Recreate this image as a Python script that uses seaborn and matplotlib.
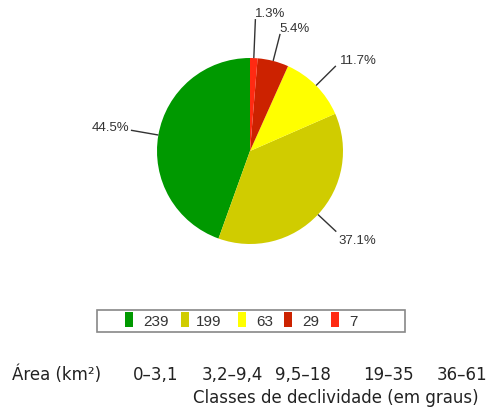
import numpy as np
import matplotlib
matplotlib.use("Agg")
import matplotlib.pyplot as plt
from matplotlib.patches import Rectangle
import seaborn as sns

# Area (km²) per slope class
areas = [239, 199, 63, 29, 7]
classes = ["0–3,1", "3,2–9,4", "9,5–18", "19–35", "36–61"]
colors = ["#009900", "#d0cc00", "#ffff00", "#cc2200", "#ff2a12"]

sns.set_theme(style="white")
plt.rcParams["font.family"] = ["DejaVu Sans"]

W, H = 492, 410
fig = plt.figure(figsize=(W / 100, H / 100), dpi=100)
fig.patch.set_facecolor("white")

# pie axes: centre (250, 152) px, radius 93 px
cx, cy, r = 250, 152, 93
ax = fig.add_axes([(cx - r) / W, (H - cy - r) / H, 2 * r / W, 2 * r / H])
wedges, _ = ax.pie(areas, colors=colors, startangle=90, counterclock=True,
                   radius=1, wedgeprops=dict(linewidth=0))
ax.set_xlim(-1, 1)
ax.set_ylim(-1, 1)
ax.set_axis_off()

total = sum(areas)
label_font = dict(family="Liberation Sans", size=9.5, color="#333333")
leader_r = [1.3, 1.27, 1.3, 1.3, 1.42]
for w, a, lr in zip(wedges, areas, leader_r):
    mid = np.deg2rad((w.theta1 + w.theta2) / 2)
    c, s = np.cos(mid), np.sin(mid)
    x0, y0 = c, s
    x1, y1 = lr * c, lr * s
    ax.plot([x0, x1], [y0, y1], color="#333333", lw=1.0, clip_on=False,
            solid_capstyle="butt")
    txt = f"{100 * a / total:.1f}%"
    if c < -0.3:
        ax.text(x1 - 0.02, y1 + 0.03, txt, ha="right", va="center", **label_font)
    elif s < 0:
        ax.text(x1 + 0.02, y1 - 0.02, txt, ha="left", va="top", **label_font)
    elif c > 0.5:
        ax.text(x1 + 0.04, y1 + 0.0, txt, ha="left", va="bottom", **label_font)
    else:
        ax.text(x1 - 0.01, y1 + 0.0, txt, ha="left", va="bottom", **label_font)


def fx(px):
    return px / W


def fy(py):
    return 1 - py / H


# legend strip
fig.patches.append(Rectangle((fx(97), fy(333)), fx(405) - fx(97), fy(311) - fy(333),
                             transform=fig.transFigure, facecolor="white",
                             edgecolor="#888888", lw=1.2))
sw_x = [125, 181, 238, 284, 331]
tx_x = [143, 196, 256, 302, 349]
for col, a, sx, tx in zip(colors, areas, sw_x, tx_x):
    fig.patches.append(Rectangle((fx(sx), fy(328)), 8 / W, 15 / H,
                                 transform=fig.transFigure, facecolor=col,
                                 edgecolor="none"))
    fig.text(fx(tx), fy(321.5), str(a), ha="left", va="center",
             family="Liberation Sans", size=11, color="#333333")

# class row
fig.text(fx(12), fy(375), "Área (km²)", ha="left", va="center", size=12,
         color="#222222")
cls_x = [156, 232, 303, 388, 462]
for lab, x in zip(classes, cls_x):
    fig.text(fx(x), fy(375), lab, ha="center", va="center", size=12,
             color="#222222")
fig.text(fx(336), fy(398), "Classes de declividade (em graus)", ha="center",
         va="center", size=12, color="#222222")

fig.savefig("out.png", dpi=100, facecolor="white")
